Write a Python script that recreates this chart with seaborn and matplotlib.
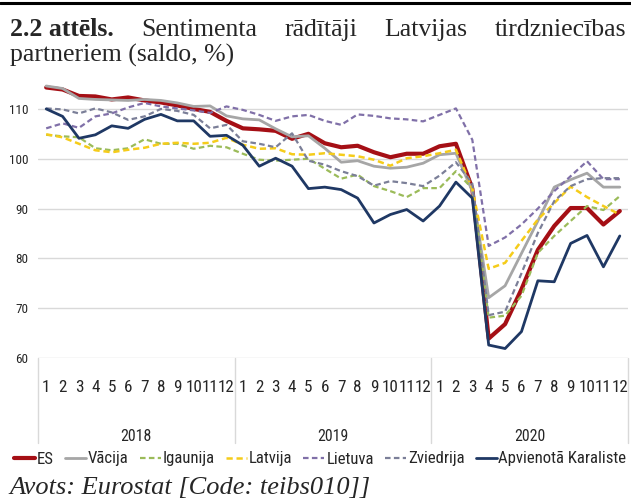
import matplotlib
matplotlib.use("Agg")
import matplotlib.pyplot as plt
from matplotlib import font_manager
from matplotlib.lines import Line2D
import matplotlib.transforms as mtransforms
import numpy as np
import seaborn as sns

# Dati (saldo, %), 2018-01 ... 2020-12
gadi = ["2018", "2019", "2020"]
menesi = [str(m) for m in range(1, 13)]

es = [114.3, 113.9, 112.6, 112.5, 111.9, 112.3, 111.7, 111.3, 110.7, 110.0, 109.4, 107.6,
      106.1, 105.9, 105.6, 104.0, 105.0, 103.1, 102.3, 102.6, 101.3, 100.3, 101.0, 101.0,
      102.5, 103.0, 94.0, 63.9, 66.8, 73.8, 81.7, 86.5, 90.1, 90.1, 86.8, 89.5]
vacija = [114.6, 114.1, 112.1, 111.9, 111.8, 111.7, 111.9, 111.7, 111.2, 110.5, 110.6, 108.6,
          108.0, 107.8, 106.0, 104.4, 104.6, 102.1, 99.3, 99.6, 98.5, 98.1, 98.3, 99.1,
          100.8, 101.1, 93.5, 72.1, 74.5, 81.0, 87.5, 94.3, 95.8, 97.1, 94.3, 94.3]
igaunija = [104.8, 104.5, 104.3, 102.1, 101.7, 102.1, 103.9, 103.0, 103.0, 102.0, 102.6, 102.3,
            101.0, 99.8, 99.6, 99.8, 100.0, 98.0, 96.0, 96.8, 94.5, 93.5, 92.3, 94.1,
            94.1, 97.5, 94.0, 68.1, 68.5, 72.5, 81.1, 84.5, 87.5, 90.5, 89.7, 92.5]
latvija = [104.9, 104.3, 103.0, 101.7, 101.3, 101.8, 102.2, 103.0, 103.2, 103.0, 103.2, 104.2,
           102.8, 102.0, 102.1, 100.9, 100.8, 101.1, 100.8, 100.5, 99.8, 98.6, 100.1, 100.5,
           101.1, 101.8, 94.0, 77.9, 79.1, 83.5, 87.8, 91.1, 94.4, 92.3, 90.5, 88.8]
lietuva = [106.1, 107.1, 106.2, 108.5, 109.1, 110.3, 111.2, 110.5, 110.1, 109.7, 109.2, 110.5,
           109.8, 108.8, 107.6, 108.5, 108.8, 107.6, 106.8, 108.9, 108.6, 108.1, 107.9, 107.5,
           108.8, 110.1, 103.8, 82.5, 84.2, 86.8, 90.0, 93.5, 96.5, 99.5, 95.9, 95.9]
zviedrija = [110.1, 109.9, 109.1, 110.1, 109.3, 107.8, 108.5, 110.0, 109.6, 108.8, 106.1, 106.8,
             103.5, 103.0, 102.3, 105.1, 99.6, 98.8, 97.5, 96.5, 94.6, 95.5, 95.1, 94.5,
             96.6, 99.3, 95.0, 68.6, 69.3, 77.0, 85.1, 91.5, 94.5, 95.9, 96.1, 96.1]
apv_karaliste = [110.0, 108.5, 104.1, 104.8, 106.6, 106.1, 107.9, 108.9, 107.6, 107.6, 104.5, 104.7,
                 102.7, 98.5, 100.1, 98.5, 94.0, 94.3, 93.8, 92.1, 87.1, 88.8, 89.8, 87.5,
                 90.5, 95.3, 92.1, 62.6, 61.9, 65.3, 75.5, 75.3, 83.0, 84.6, 78.3, 84.5]

svitr = (0, (2.5, 1.5))
serijas = [
    ("ES", es, "#A50F15", 3.0, "-"),
    ("Vācija", vacija, "#A6A6A6", 2.0, "-"),
    ("Igaunija", igaunija, "#9BBB59", 1.6, svitr),
    ("Latvija", latvija, "#F5CC1A", 1.8, svitr),
    ("Lietuva", lietuva, "#8070A8", 1.6, svitr),
    ("Zviedrija", zviedrija, "#7B7F98", 1.6, svitr),
    ("Apvienotā Karaliste", apv_karaliste, "#1F3864", 2.0, "-"),
]

sns.set_theme(style="white")

# šaurais fonts, ja tāds ir
fonti = font_manager.fontManager.ttflist
vardi = {f.name for f in fonti}


def ir_saurs(nos):
    return any(f.name == nos and ("condensed" in str(f.stretch) or str(f.stretch).isdigit()
                                  and int(f.stretch) < 500) for f in fonti)


if "Liberation Sans Narrow" in vardi:
    saurs, k = dict(family="Liberation Sans Narrow"), 1.0
elif "Roboto Condensed" in vardi:
    saurs, k = dict(family="Roboto Condensed"), 0.95
elif ir_saurs("Noto Sans"):
    saurs, k = dict(family="Noto Sans", stretch="condensed"), 0.92
elif ir_saurs("DejaVu Sans"):
    saurs, k = dict(family="DejaVu Sans", stretch="condensed"), 0.85
else:
    saurs, k = dict(family="Liberation Sans"), 0.82
serif = "Liberation Serif"

W, H = 631, 501
fig = plt.figure(figsize=(W / 100, H / 100), dpi=100)
ax = fig.add_axes([38 / W, 1 - 358 / H, 590 / W, (358 - 84) / H])

x = np.arange(len(es))
for nosaukums, vert, krasa, lw, ls in serijas:
    sns.lineplot(x=x, y=vert, ax=ax, color=krasa, lw=lw, linestyle=ls, label=nosaukums)

ax.set_xlim(-0.5, len(es) - 0.5)
ax.set_ylim(60, 115)
ax.set_yticks(range(60, 111, 10))
ax.set_yticklabels([str(v) for v in range(60, 111, 10)], fontsize=10 * k, **saurs)
ax.set_xticks(x)
ax.set_xticklabels(menesi * len(gadi), fontsize=13 * k, **saurs)
ax.tick_params(axis="x", length=0, pad=16)
ax.tick_params(axis="y", length=0, pad=7)
ax.grid(axis="y", color="#D9D9D9", lw=1)
ax.grid(axis="x", visible=False)
for s in ax.spines.values():
    s.set_visible(False)
ax.set_xlabel("")
ax.set_ylabel("")

# gadu atdalītāji un nosaukumi
trans = mtransforms.blended_transform_factory(ax.transData, ax.transAxes)
for g in range(len(gadi) + 1):
    ax.plot([g * 12 - 0.5] * 2, [0, -0.31], color="#D9D9D9", lw=1, transform=trans, clip_on=False)
for g, gads in enumerate(gadi):
    ax.text(g * 12 + 5.5, -0.285, gads, transform=trans, ha="center", va="center",
            fontsize=12 * k, **saurs)

rend = fig.canvas.get_renderer()


def leģenda(lf):
    lpx = lf * 100 / 72
    return ax.legend(loc="center left", bbox_to_anchor=(14 / W, 1 - 459 / H),
                     bbox_transform=fig.transFigure, ncol=7, frameon=False,
                     handlelength=21 / lpx, handletextpad=2 / lpx, columnspacing=11 / lpx,
                     borderaxespad=0, borderpad=0, prop=dict(size=lf, **saurs))


# leģendu pielāgo, lai tā beidzas pie labās malas
lf = 13.5 * k
leg = leģenda(lf)
for _ in range(4):
    bb = leg.get_window_extent(rend)
    if bb.x1 <= 628:
        break
    lf *= (628 - 14 - 7 * 23 - 6 * 11) / (bb.width - 7 * 23 - 6 * 11)
    leg = leģenda(lf)

# virsraksts (izlīdzināts abās malās)
fig.add_artist(Line2D([0, 1], [1 - 3 / H, 1 - 3 / H], color="black", lw=2.2))
vs = 18.5
y1 = 1 - 30 / H
vardi1 = [("2.2 attēls.", "bold"), ("Sentimenta", "normal"), ("rādītāji", "normal"),
          ("Latvijas", "normal"), ("tirdzniecības", "normal")]
teksti = [fig.text(0, y1, v, fontsize=vs, family=serif, weight=w, va="center") for v, w in vardi1]
platumi = [t.get_window_extent(rend).width for t in teksti]
kreisa, laba = 10, 626
atstarpe = (laba - kreisa - sum(platumi)) / (len(teksti) - 1)
poz = kreisa
for t, p in zip(teksti, platumi):
    t.set_x(poz / W)
    poz += p + atstarpe
fig.text(kreisa / W, 1 - 55 / H, "partneriem (saldo, %)", fontsize=vs, family=serif, va="center")
fig.text(9 / W, 1 - 488 / H, "Avots: Eurostat [Code: teibs010]]", fontsize=19, family=serif,
         style="italic", va="center")

fig.savefig("out.png", dpi=100)
